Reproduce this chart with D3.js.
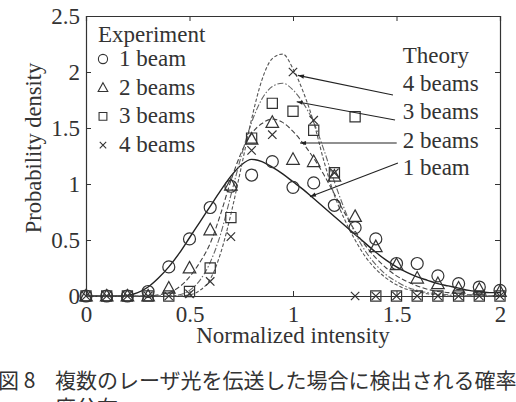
<!DOCTYPE html>
<html>
<head>
<meta charset="utf-8">
<script src="https://cdn.jsdelivr.net/npm/d3@7"></script>
<style>
  html, body { margin: 0; padding: 0; background: #fff; }
</style>
</head>
<body>
<svg id="chart" width="516" height="402" font-family="Liberation Serif"></svg>
<script>
// tick values
const xTicks = [0, 0.5, 1, 1.5, 2]
const yTicks = [0, 0.5, 1, 1.5, 2, 2.5]

// measured points (normalized intensity 0..2, step 0.1)
const expX = [0, 0.1, 0.2, 0.3, 0.4, 0.5, 0.6, 0.7, 0.8, 0.9, 1.0,
  1.1, 1.2, 1.3, 1.4, 1.5, 1.6, 1.7, 1.8, 1.9, 2.0]
const exp1 = [0, 0, 0, 0.04, 0.26, 0.51, 0.79, 0.98, 1.08, 1.2, 0.97,
  1.01, 0.81, 0.61, 0.51, 0.29, 0.29, 0.18, 0.11, 0.08, 0.05]
const exp2 = [0, 0, 0, 0, 0.07, 0.25, 0.59, 0.99, 1.4, 1.55, 1.22,
  1.2, 1.07, 0.71, 0.44, 0.28, 0.16, 0.11, 0.07, 0.06, 0.04]
const exp3 = [0, 0, 0, 0, 0, 0.04, 0.25, 0.7, 1.41, 1.72, 1.65,
  1.48, 1.1, 1.6, 0, 0, 0, 0, 0, 0, 0]
const exp4 = [0, 0, 0, 0, 0, 0.02, 0.13, 0.53, 1.3, 1.44, 2.0,
  1.57, 1.1, 0, 0, 0, 0, 0, 0, 0, 0]

// theory curves
const theoryX = [0, 0.05, 0.1, 0.15, 0.2, 0.25, 0.3, 0.35, 0.4, 0.45, 0.5,
  0.55, 0.6, 0.65, 0.7, 0.75, 0.8, 0.85, 0.9, 0.95, 1.0,
  1.05, 1.1, 1.15, 1.2, 1.25, 1.3, 1.35, 1.4, 1.45, 1.5,
  1.55, 1.6, 1.65, 1.7, 1.75, 1.8, 1.85, 1.9, 1.95, 2.0]
const theory1 = [0, 0, 0, 0, 0.005, 0.03, 0.08, 0.16, 0.26, 0.38, 0.52,
  0.66, 0.8, 0.94, 1.07, 1.17, 1.22, 1.2, 1.15, 1.09, 1.02,
  0.95, 0.87, 0.79, 0.71, 0.63, 0.55, 0.47, 0.39, 0.32, 0.26,
  0.21, 0.17, 0.14, 0.11, 0.09, 0.07, 0.05, 0.04, 0.03, 0.03]
const theory2 = [0, 0, 0, 0, 0, 0, 0, 0.01, 0.03, 0.08, 0.17,
  0.3, 0.47, 0.73, 1.03, 1.28, 1.45, 1.54, 1.58, 1.55, 1.47,
  1.36, 1.23, 1.08, 0.91, 0.74, 0.58, 0.45, 0.34, 0.25, 0.18,
  0.13, 0.09, 0.06, 0.04, 0.03, 0.02, 0.01, 0.01, 0, 0]
const theory3 = [0, 0, 0, 0, 0, 0, 0, 0, 0, 0.01, 0.05,
  0.14, 0.3, 0.55, 0.9, 1.25, 1.55, 1.76, 1.87, 1.9, 1.84,
  1.72, 1.55, 1.3, 1.02, 0.77, 0.56, 0.4, 0.28, 0.19, 0.13,
  0.08, 0.05, 0.03, 0.02, 0.01, 0, 0, 0, 0, 0]
const theory4 = [0, 0, 0, 0, 0, 0, 0, 0, 0, 0, 0.01,
  0.05, 0.15, 0.38, 0.73, 1.15, 1.58, 1.93, 2.12, 2.16, 2.03,
  1.82, 1.55, 1.2, 0.9, 0.68, 0.5, 0.35, 0.24, 0.16, 0.1,
  0.06, 0.04, 0.02, 0.01, 0, 0, 0, 0, 0, 0]

const seriesNames = ["1 beam", "2 beams", "3 beams", "4 beams"]

/**
 * Margins of the visualization.
 */
const margin = { top: 16, right: 16, bottom: 106, left: 86 }

let svg = d3.select("#chart")
let width = 516
let height = 402
let innerW = width - margin.left - margin.right
let innerH = height - margin.top - margin.bottom

const ink = "#333"
const serif = "Liberation Serif"

const xScale = d3.scaleLinear().domain([0, 2]).range([0, innerW])
const yScale = d3.scaleLinear().domain([0, 2.5]).range([innerH, 0])

svg.append("rect").attr("width", width).attr("height", height).attr("fill", "#fff")

let defs = svg.append("defs")
defs.append("marker")
  .attr("id", "arrow")
  .attr("viewBox", "0 0 10 10")
  .attr("refX", 10)
  .attr("refY", 5)
  .attr("markerWidth", 9)
  .attr("markerHeight", 6)
  .attr("markerUnits", "userSpaceOnUse")
  .attr("orient", "auto")
  .append("path")
  .attr("d", "M0,1.5 L10,5 L0,8.5 Z")
  .attr("fill", "#222")

let g = svg.append("g").attr("transform", `translate(${margin.left},${margin.top})`)

/**
 * Axes: box with inward ticks
 */
let xAxis = g.append("g")
  .attr("transform", `translate(0,${innerH})`)
  .call(d3.axisBottom(xScale).tickValues(xTicks).tickSize(-5).tickPadding(0).tickFormat(d3.format("")))
let xTop = g.append("g")
  .call(d3.axisTop(xScale).tickValues(xTicks).tickSize(-5).tickFormat(""))
let yAxis = g.append("g")
  .call(d3.axisLeft(yScale).tickValues(yTicks).tickSize(-5).tickPadding(6).tickFormat(d3.format("")))
let yRight = g.append("g")
  .attr("transform", `translate(${innerW},0)`)
  .call(d3.axisRight(yScale).tickValues(yTicks).tickSize(-5).tickFormat(""))

;[xAxis, xTop, yAxis, yRight].forEach(a => {
  a.attr("font-family", serif)
  a.select(".domain").attr("stroke", ink).attr("stroke-width", 1.2)
  a.selectAll(".tick line").attr("stroke", ink)
  a.selectAll("text").attr("fill", ink).attr("font-size", 23)
    .attr("font-family", serif)
})
xAxis.selectAll("text").attr("y", 26).attr("dy", 0)
yAxis.selectAll("text").attr("dy", "0.34em")

// axis titles
g.append("text")
  .attr("x", innerW / 2)
  .attr("y", innerH + 47)
  .attr("text-anchor", "middle")
  .attr("font-size", 23)
  .attr("fill", ink)
  .attr("font-family", serif)
  .text("Normalized intensity")

g.append("text")
  .attr("transform", `translate(${-45},${innerH / 2 - 8}) rotate(-90)`)
  .attr("text-anchor", "middle")
  .attr("font-size", 22.5)
  .attr("fill", ink)
  .attr("font-family", serif)
  .text("Probability density")

/**
 * Theory curves
 */
const theory = [theory1, theory2, theory3, theory4]
const dashes = [null, "5,2.5", "6,2,1.5,2", "3.5,2"]
const lineColors = ["#222", "#444", "#666", "#555"]

let line = d3.line()
  .x((d, i) => xScale(theoryX[i]))
  .y(d => yScale(d))
  .curve(d3.curveMonotoneX)

g.selectAll(".theory")
  .data(theory)
  .enter()
  .append("path")
  .attr("class", "theory")
  .attr("d", d => line(d))
  .attr("fill", "none")
  .attr("stroke", (d, i) => lineColors[i])
  .attr("stroke-width", (d, i) => i === 0 ? 1.4 : 1.1)
  .attr("stroke-dasharray", (d, i) => dashes[i])

/**
 * Marker shapes
 */
function markerPath(kind, s) {
  if (kind === 0) {
    return `M${s},0 A${s},${s} 0 1,1 ${-s},0 A${s},${s} 0 1,1 ${s},0 Z`
  }
  if (kind === 1) {
    let h = s * 1.1
    return `M0,${-h} L${s * 1.05},${h * 0.75} L${-s * 1.05},${h * 0.75} Z`
  }
  if (kind === 2) {
    let q = s * 0.85
    return `M${-q},${-q} H${q} V${q} H${-q} Z`
  }
  let c = s * 0.7
  return `M${-c},${-c} L${c},${c} M${-c},${c} L${c},${-c}`
}

const experiments = [exp1, exp2, exp3, exp4]

experiments.forEach((vals, k) => {
  g.selectAll(".exp" + k)
    .data(vals)
    .enter()
    .append("path")
    .attr("class", "exp" + k)
    .attr("transform", (d, i) => `translate(${xScale(expX[i])},${yScale(d)})`)
    .attr("d", markerPath(k, 6))
    .attr("fill", "none")
    .attr("stroke", "#333")
    .attr("stroke-width", 1.2)
})

/**
 * Legend (experiment)
 */
let legend = g.append("g")
legend.append("text")
  .attr("x", xScale(0.058))
  .attr("y", 26)
  .attr("font-size", 23)
  .attr("fill", ink)
  .attr("font-family", serif)
  .text("Experiment")

seriesNames.forEach((name, k) => {
  let yy = 50 + k * 28.7
  legend.append("path")
    .attr("transform", `translate(${xScale(0.082)},${yy - 7})`)
    .attr("d", markerPath(k, 4.6))
    .attr("fill", "none")
    .attr("stroke", "#333")
    .attr("stroke-width", 1.1)
  legend.append("text")
    .attr("x", xScale(0.16))
    .attr("y", yy)
    .attr("font-size", 23)
    .attr("fill", ink)
    .attr("font-family", serif)
    .text(name)
})

/**
 * Theory labels with arrows
 */
const labelX = 1.53
g.append("text")
  .attr("x", xScale(labelX))
  .attr("y", 47)
  .attr("font-size", 23)
  .attr("fill", ink)
  .attr("font-family", serif)
  .text("Theory")

// arrow start / end in data units, one per series, from 4 beams down to 1 beam
const arrows = [
  { name: "4 beams", base: 75, from: [1.483, 1.795], to: [1.024, 1.97] },
  { name: "3 beams", base: 103, from: [1.493, 1.571], to: [1.018, 1.735] },
  { name: "2 beams", base: 132, from: [1.501, 1.366], to: [1.034, 1.366] },
  { name: "1 beam", base: 159, from: [1.507, 1.1875], to: [1.082, 0.887] }
]

arrows.forEach(a => {
  g.append("line")
    .attr("x1", xScale(a.from[0]))
    .attr("y1", yScale(a.from[1]))
    .attr("x2", xScale(a.to[0]))
    .attr("y2", yScale(a.to[1]))
    .attr("stroke", "#222")
    .attr("stroke-width", 1.1)
    .attr("marker-end", "url(#arrow)")
  g.append("text")
    .attr("x", xScale(labelX))
    .attr("y", a.base)
    .attr("font-size", 23)
    .attr("fill", ink)
    .attr("font-family", serif)
    .text(a.name)
})

/**
 * Caption
 */
let cap = svg.append("g")
  .attr("font-size", 21)
  .attr("fill", "#333")
  .attr("font-family", "Noto Sans CJK JP")
cap.append("text").attr("x", -2).attr("y", 388).text("図 8")
cap.append("text").attr("x", 55).attr("y", 388).text("複数のレーザ光を伝送した場合に検出される確率")
cap.append("text").attr("x", 55).attr("y", 415).text("度分布")
</script>
</body>
</html>
